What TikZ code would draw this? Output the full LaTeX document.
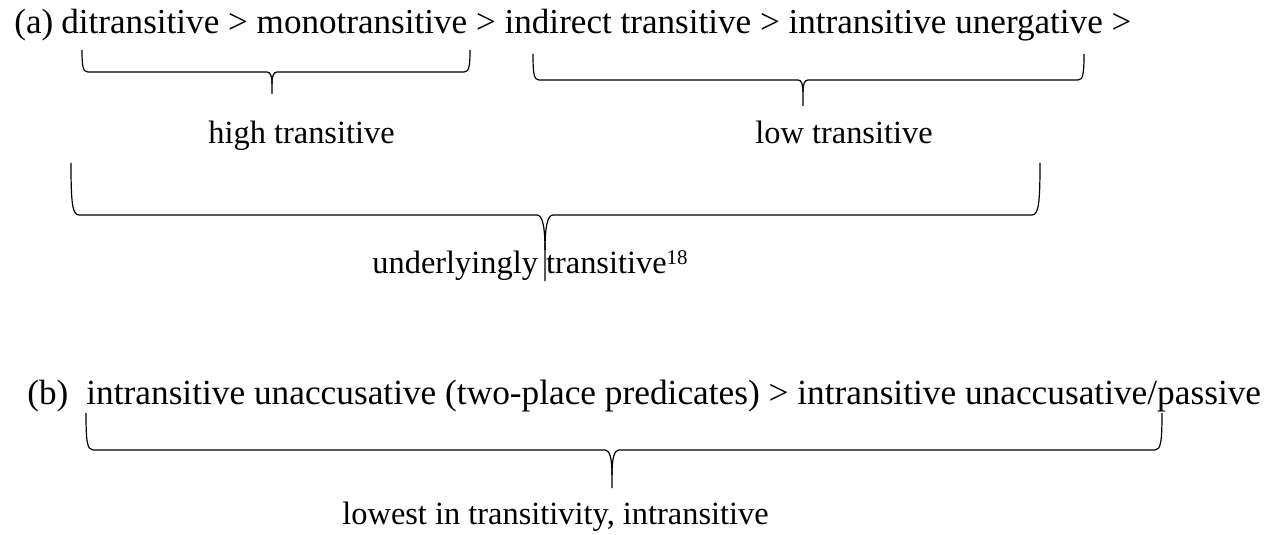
\documentclass[tikz,border=0pt]{standalone}
\usepackage{fontspec}
\setmainfont{Liberation Serif}
\begin{document}
\begin{tikzpicture}[x=0.5pt,y=-0.5pt,
  mainline/.style={inner sep=0pt,anchor=base west,font=\fontsize{17.55}{20}\selectfont},
  label/.style={inner sep=0pt,anchor=base west,font=\fontsize{16.2}{19}\selectfont},
  bracket/.style={draw=black,line width=0.6pt,line join=round}]
\useasboundingbox (0,0) rectangle (1270,535);

% horizontal brace: #1 left x, #2 right x, #3 middle x, #4 arm top, #5 bar y,
% #6 tip y, #7 corner size, #8 cusp half width, #9 cusp depth
\newcommand\hbrack[9]{%
  \draw[bracket] (#1,#4) .. controls (#1,#4+0.75*#5-0.75*#4) and (#1+0.15*#7,#5) .. (#1+#7,#5)
    -- (#3-#8,#5) .. controls (#3-0.35*#8,#5) and (#3,#5+0.3*#9) .. (#3,#5+#9) -- (#3,#6);
  \draw[bracket] (#3,#5+#9) .. controls (#3,#5+0.3*#9) and (#3+0.35*#8,#5) .. (#3+#8,#5)
    -- (#2-#7,#5) .. controls (#2-0.15*#7,#5) and (#2,#4+0.75*#5-0.75*#4) .. (#2,#4);}

% (a) scale
\node[mainline] (la) at (14,34) {(a)};
\node[mainline] (ha) at (61,34) {ditransitive > monotransitive > indirect transitive > intransitive unergative >};
\hbrack{82}{470}{272}{50}{72}{94}{6}{5}{12}
\hbrack{533}{1084}{803}{54}{80}{106}{6}{5}{12}
\node[label] (high) at (208,144) {high transitive};
\node[label] (low) at (755,144) {low transitive};
\hbrack{71}{1040}{545}{163}{215}{281}{8}{8}{35}
\node[label] (under) at (372,273) {underlyingly transitive\raisebox{4.5pt}{\fontsize{10.5}{12}\selectfont 18}};

% (b) scale
\node[mainline] (lb) at (27,404) {(b)};
\node[mainline,font=\fontsize{17.65}{20}\selectfont] (hb) at (86,404) {intransitive unaccusative (two-place predicates) > intransitive unaccusative/passive};
\hbrack{86}{1162}{612}{413}{450}{488}{7}{7}{25}
\node[label] (lowest) at (342,524) {lowest in transitivity, intransitive};
\end{tikzpicture}
\end{document}
